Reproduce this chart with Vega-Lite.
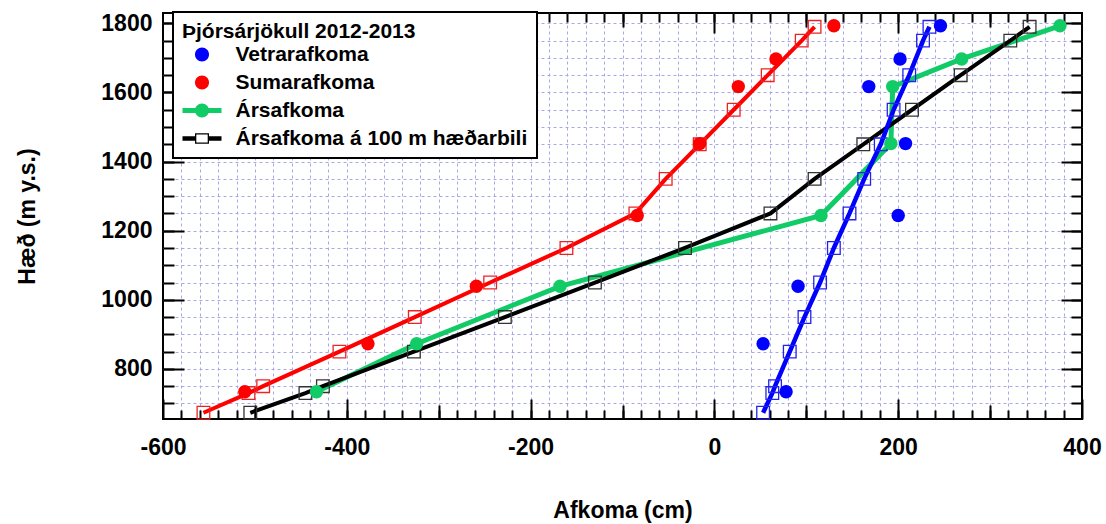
{
  "$schema": "https://vega.github.io/schema/vega-lite/v6.json",
  "autosize": {"type": "none"},
  "width": 919,
  "height": 406,
  "padding": {"left": 163, "top": 13, "right": 24, "bottom": 105},
  "background": "white",
  "datasets": {
    "stodvar": [
      {"haed": 734, "vetur": 78, "sumar": -511, "ars": -433},
      {"haed": 873, "vetur": 53, "sumar": -377, "ars": -324},
      {"haed": 1039, "vetur": 91, "sumar": -259, "ars": -168},
      {"haed": 1244, "vetur": 200, "sumar": -84, "ars": 116},
      {"haed": 1452, "vetur": 208, "sumar": -16, "ars": 192},
      {"haed": 1617, "vetur": 168, "sumar": 26, "ars": 194},
      {"haed": 1697, "vetur": 202, "sumar": 67, "ars": 269},
      {"haed": 1793, "vetur": 246, "sumar": 130, "ars": 376}
    ],
    "bil": [
      {"haed": 673, "vetur": 53, "sumar": -556, "ars": -505},
      {"haed": 730, "vetur": 63, "sumar": -507, "ars": -445},
      {"haed": 750, "vetur": 66, "sumar": -491, "ars": -426},
      {"haed": 850, "vetur": 82, "sumar": -408, "ars": -327},
      {"haed": 950, "vetur": 98, "sumar": -326, "ars": -228},
      {"haed": 1050, "vetur": 115, "sumar": -244, "ars": -130},
      {"haed": 1150, "vetur": 130, "sumar": -161, "ars": -32},
      {"haed": 1250, "vetur": 147, "sumar": -86, "ars": 61},
      {"haed": 1350, "vetur": 163, "sumar": -53, "ars": 109},
      {"haed": 1450, "vetur": 181, "sumar": -16, "ars": 162},
      {"haed": 1550, "vetur": 195, "sumar": 21, "ars": 215},
      {"haed": 1650, "vetur": 212, "sumar": 58, "ars": 268},
      {"haed": 1750, "vetur": 227, "sumar": 95, "ars": 322},
      {"haed": 1790, "vetur": 234, "sumar": 109, "ars": 343}
    ],
    "flokkar": [
      {"flokkur": "Vetrarafkoma"},
      {"flokkur": "Sumarafkoma"},
      {"flokkur": "Ársafkoma"},
      {"flokkur": "Ársafkoma á 100 m hæðarbili"}
    ]
  },
  "resolve": {"axis": {"x": "independent", "y": "independent"}},
  "layer": [
    {
      "data": {"name": "stodvar"},
      "mark": {"type": "line", "color": "#11cc66", "strokeWidth": 5},
      "encoding": {
        "x": {"field": "ars", "type": "quantitative", "scale": {"domain": [-600, 400], "nice": false, "zero": false},
          "axis": {"orient": "bottom", "values": [-600, -400, -200, 0, 200, 400], "labelExpr": "'' + datum.value", "ticks": true, "tickSize": -20, "grid": false, "labelPadding": 37, "title": "Afkoma (cm)", "titleX": 459.5, "titleY": 91, "titleBaseline": "middle"}},
        "y": {"field": "haed", "type": "quantitative", "scale": {"domain": [655, 1830], "nice": false, "zero": false},
          "axis": {"orient": "left", "values": [800, 1000, 1200, 1400, 1600, 1800], "labelExpr": "'' + datum.value", "ticks": true, "tickSize": -21, "grid": false, "labelPadding": 32, "title": "Hæð (m y.s.)", "titleX": -136, "titleY": 203, "titleAngle": -90, "titleBaseline": "middle"}},
        "order": {"field": "haed", "type": "quantitative"}
      }
    },
    {
      "data": {"name": "bil"},
      "mark": {"type": "line", "color": "#000000", "strokeWidth": 4},
      "encoding": {
        "x": {"field": "ars", "type": "quantitative",
          "axis": {"orient": "bottom", "values": [-580,-560,-540,-520,-500,-480,-460,-440,-420,-400,-380,-360,-340,-320,-300,-280,-260,-240,-220,-200,-180,-160,-140,-120,-100,-80,-60,-40,-20,0,20,40,60,80,100,120,140,160,180,200,220,240,260,280,300,320,340,360,380], "grid": true, "ticks": true, "tickSize": -9, "labels": false, "title": null}},
        "y": {"field": "haed", "type": "quantitative",
          "axis": {"orient": "left", "values": [700,750,800,850,900,950,1000,1050,1100,1150,1200,1250,1300,1350,1400,1450,1500,1550,1600,1650,1700,1750,1800], "grid": true, "ticks": true, "tickSize": -11, "labels": false, "title": null}},
        "order": {"field": "haed", "type": "quantitative"}
      }
    },
    {
      "data": {"name": "bil"},
      "mark": {"type": "line", "color": "#ff0000", "strokeWidth": 4},
      "encoding": {
        "x": {"field": "sumar", "type": "quantitative",
          "axis": {"orient": "top", "offset": -406, "values": [-500, -300, -100, 100, 300], "ticks": true, "tickSize": 14, "labels": false, "title": null}},
        "y": {"field": "haed", "type": "quantitative",
          "axis": {"orient": "left", "offset": -919, "values": [700,750,800,850,900,950,1000,1050,1100,1150,1200,1250,1300,1350,1400,1450,1500,1550,1600,1650,1700,1750,1800], "ticks": true, "tickSize": 11, "labels": false, "title": null}},
        "order": {"field": "haed", "type": "quantitative"}
      }
    },
    {
      "data": {"name": "bil"},
      "mark": {"type": "line", "color": "#0000ff", "strokeWidth": 4.5},
      "encoding": {
        "x": {"field": "vetur", "type": "quantitative",
          "axis": {"orient": "bottom", "offset": -406, "values": [-580,-560,-540,-520,-500,-480,-460,-440,-420,-400,-380,-360,-340,-320,-300,-280,-260,-240,-220,-200,-180,-160,-140,-120,-100,-80,-60,-40,-20,0,20,40,60,80,100,120,140,160,180,200,220,240,260,280,300,320,340,360,380], "ticks": true, "tickSize": 9, "labels": false, "title": null}},
        "y": {"field": "haed", "type": "quantitative",
          "axis": {"orient": "left", "offset": -919, "values": [800, 1000, 1200, 1400, 1600, 1800], "ticks": true, "tickSize": 21, "labels": false, "title": null}},
        "order": {"field": "haed", "type": "quantitative"}
      }
    },
    {
      "data": {"name": "bil"},
      "mark": {"type": "point", "shape": "square", "filled": false, "size": 160, "strokeWidth": 1.3, "color": "#ee2222", "opacity": 1},
      "encoding": {
        "x": {"field": "sumar", "type": "quantitative",
          "axis": {"orient": "bottom", "offset": -406, "values": [-500, -300, -100, 100, 300], "ticks": true, "tickSize": 14, "labels": false, "title": null}},
        "y": {"field": "haed", "type": "quantitative", "axis": null}
      }
    },
    {
      "data": {"name": "bil"},
      "mark": {"type": "point", "shape": "square", "filled": false, "size": 160, "strokeWidth": 1.3, "color": "#2222ee", "opacity": 1},
      "encoding": {
        "x": {"field": "vetur", "type": "quantitative",
          "axis": {"orient": "bottom", "offset": -406, "values": [-400, -200, 0, 200], "ticks": true, "tickSize": 20, "labels": false, "title": null}},
        "y": {"field": "haed", "type": "quantitative", "axis": null}
      }
    },
    {
      "data": {"name": "bil"},
      "mark": {"type": "point", "shape": "square", "filled": false, "size": 160, "strokeWidth": 1.3, "color": "#333333", "opacity": 1},
      "encoding": {
        "x": {"field": "ars", "type": "quantitative", "axis": null},
        "y": {"field": "haed", "type": "quantitative", "axis": null}
      }
    },
    {
      "data": {"name": "stodvar"},
      "mark": {"type": "point", "shape": "circle", "filled": true, "size": 180, "color": "#ff0000", "opacity": 1, "strokeWidth": 0},
      "encoding": {
        "x": {"field": "sumar", "type": "quantitative", "axis": null},
        "y": {"field": "haed", "type": "quantitative", "axis": null}
      }
    },
    {
      "data": {"name": "stodvar"},
      "mark": {"type": "point", "shape": "circle", "filled": true, "size": 180, "color": "#0000ff", "opacity": 1, "strokeWidth": 0},
      "encoding": {
        "x": {"field": "vetur", "type": "quantitative", "axis": null},
        "y": {"field": "haed", "type": "quantitative", "axis": null}
      }
    },
    {
      "data": {"name": "stodvar"},
      "mark": {"type": "point", "shape": "circle", "filled": true, "size": 180, "color": "#11cc66", "opacity": 1, "strokeWidth": 0},
      "encoding": {
        "x": {"field": "ars", "type": "quantitative", "axis": null},
        "y": {"field": "haed", "type": "quantitative", "axis": null}
      }
    },
    {
      "data": {"name": "flokkar"},
      "transform": [{"filter": "false"}],
      "mark": {"type": "point", "filled": true, "size": 400, "opacity": 1, "strokeWidth": 0},
      "encoding": {
        "color": {"field": "flokkur", "type": "nominal", "title": "Þjórsárjökull 2012-2013",
          "scale": {"domain": ["Vetrarafkoma", "Sumarafkoma", "Ársafkoma", "Ársafkoma á 100 m hæðarbili"], "range": ["#0000ff", "#ff0000", "#11cc66", "#000000"]}},
        "shape": {"field": "flokkur", "type": "nominal", "title": "Þjórsárjökull 2012-2013",
          "scale": {"domain": ["Vetrarafkoma", "Sumarafkoma", "Ársafkoma", "Ársafkoma á 100 m hæðarbili"],
            "range": [
              "M-0.7,0A0.7,0.7,0,1,1,0.7,0A0.7,0.7,0,1,1,-0.7,0Z",
              "M-0.7,0A0.7,0.7,0,1,1,0.7,0A0.7,0.7,0,1,1,-0.7,0Z",
              "M-1.95,-0.25H1.95V0.25H-1.95ZM-0.7,0A0.7,0.7,0,1,1,0.7,0A0.7,0.7,0,1,1,-0.7,0Z",
              "M-1.95,-0.22H-0.7V0.22H-1.95ZM0.7,-0.22H1.95V0.22H0.7ZM-0.7,-0.53H0.7V0.53H-0.7ZM-0.57,-0.4V0.4H0.57V-0.4Z"
            ]}}
      }
    }
  ],
  "config": {
    "font": "Liberation Sans",
    "view": {"stroke": "#000000", "strokeWidth": 2},
    "axis": {
      "domain": false,
      "grid": false,
      "gridColor": "#a8a8e8",
      "gridDash": [3, 3],
      "gridWidth": 1,
      "gridOpacity": 1,
      "tickColor": "#000000",
      "tickWidth": 2,
      "tickOpacity": 1,
      "labelFont": "Liberation Sans",
      "labelFontWeight": "bold",
      "labelFontSize": 23,
      "labelColor": "#000000",
      "labelFlush": false,
      "labelOverlap": false,
      "titleFont": "Liberation Sans",
      "titleFontWeight": "bold",
      "titleFontSize": 23,
      "titleColor": "#000000"
    },
    "legend": {
      "orient": "none",
      "legendX": 10,
      "legendY": -1,
      "padding": 9,
      "fillColor": "#ffffff",
      "strokeColor": "#000000",
      "strokeWidth": 2,
      "titleFont": "Liberation Sans",
      "titleFontSize": 21,
      "titleFontWeight": "bold",
      "titleColor": "#000000",
      "titlePadding": 2,
      "titleLimit": 500,
      "labelFont": "Liberation Sans",
      "labelFontSize": 21,
      "labelFontWeight": "bold",
      "labelColor": "#000000",
      "labelLimit": 500,
      "labelOffset": 23,
      "symbolSize": 400,
      "symbolStrokeWidth": 0,
      "symbolOffset": 9.5,
      "rowPadding": 6
    }
  }
}
